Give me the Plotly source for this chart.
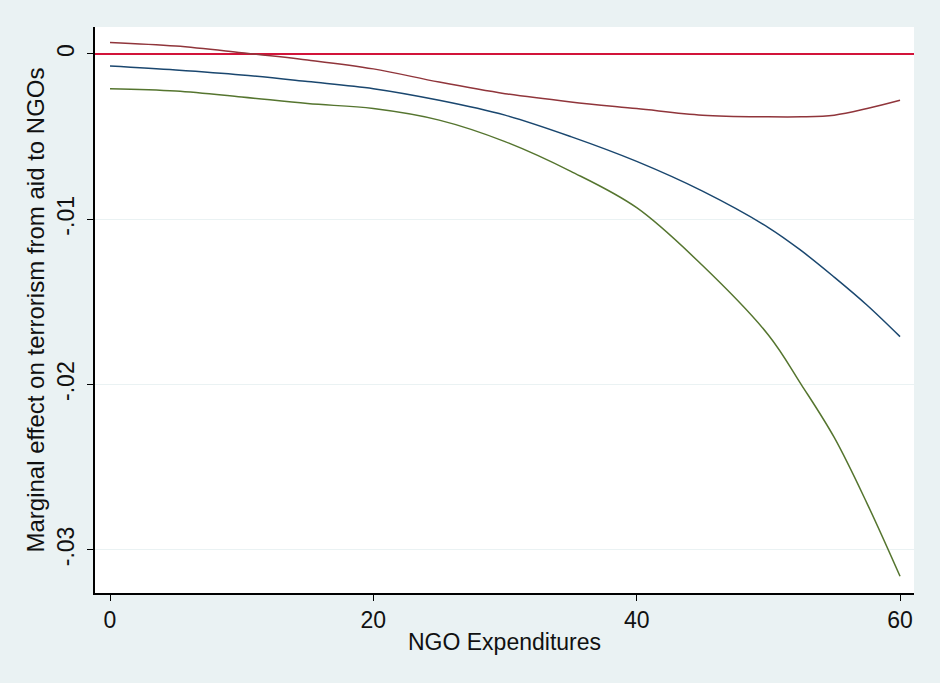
import plotly.graph_objects as go

x_vals = [0, 5, 10, 15, 20, 25, 30, 35, 40, 45, 50, 52.5, 55, 57.5, 60]
estimate = [-0.00073, -0.00097, -0.00127, -0.00167, -0.0021, -0.0028, -0.0037, -0.0050,
            -0.0065, -0.0083, -0.0105, -0.0119, -0.0135, -0.0152, -0.0171]
upper = [0.00070, 0.00048, 0.00008, -0.00036, -0.0009, -0.0017, -0.0024, -0.0029,
         -0.0033, -0.0037, -0.0038, -0.0038, -0.0037, -0.0033, -0.0028]
lower = [-0.0021, -0.00224, -0.0026, -0.0030, -0.0033, -0.0040, -0.0053, -0.0071,
         -0.0093, -0.0128, -0.0170, -0.0200, -0.0232, -0.0272, -0.0316]
zero_line = [0, 0]
zero_x = [-1.139, 61.06]

y_ticks = [0, -0.01, -0.02, -0.03]
y_tick_labels = ["0", "-.01", "-.02", "-.03"]
x_ticks = [0, 20, 40, 60]
x_tick_labels = ["0", "20", "40", "60"]

fig = go.Figure()
fig.add_trace(go.Scatter(x=zero_x, y=zero_line, mode="lines",
                         line=dict(color="#D2143A", width=1.8), showlegend=False))
fig.add_trace(go.Scatter(x=x_vals, y=upper, mode="lines", line_shape="spline",
                         line=dict(color="#90353B", width=1.5), showlegend=False))
fig.add_trace(go.Scatter(x=x_vals, y=estimate, mode="lines", line_shape="spline",
                         line=dict(color="#1A476F", width=1.5), showlegend=False))
fig.add_trace(go.Scatter(x=x_vals, y=lower, mode="lines", line_shape="spline",
                         line=dict(color="#55752F", width=1.5), showlegend=False))

font = dict(family="Liberation Sans, Arial, sans-serif", size=23, color="#111111")
ytitle_font = dict(family="Liberation Sans, Arial, sans-serif", size=24, color="#111111")

fig.update_layout(
    width=940, height=683,
    paper_bgcolor="#EAF2F3", plot_bgcolor="#FFFFFF",
    margin=dict(l=95, r=26, t=27, b=90),
    font=font,
    xaxis=dict(range=[-1.139, 61.06], tickvals=x_ticks, ticktext=x_tick_labels,
               showgrid=False, zeroline=False, showline=True, linecolor="#000000",
               linewidth=1.5, ticks="outside", ticklen=6, tickcolor="#000000",
               title=dict(text="NGO Expenditures", font=font, standoff=2)),
    yaxis=dict(range=[-0.03261, 0.001633], tickvals=y_ticks, ticktext=y_tick_labels,
               tickangle=-90, showgrid=True, gridcolor="#EAF2F3", gridwidth=1,
               zeroline=False, showline=True, linecolor="#000000", linewidth=1.5,
               ticks="outside", ticklen=6, tickcolor="#000000", ticklabelstandoff=4,
               title=dict(text="Marginal effect on terrorism from aid to NGOs",
                          font=ytitle_font, standoff=2)),
)

fig.write_html("out.html", config={"displayModeBar": False},
               post_script="document.body.style.margin='0';")
